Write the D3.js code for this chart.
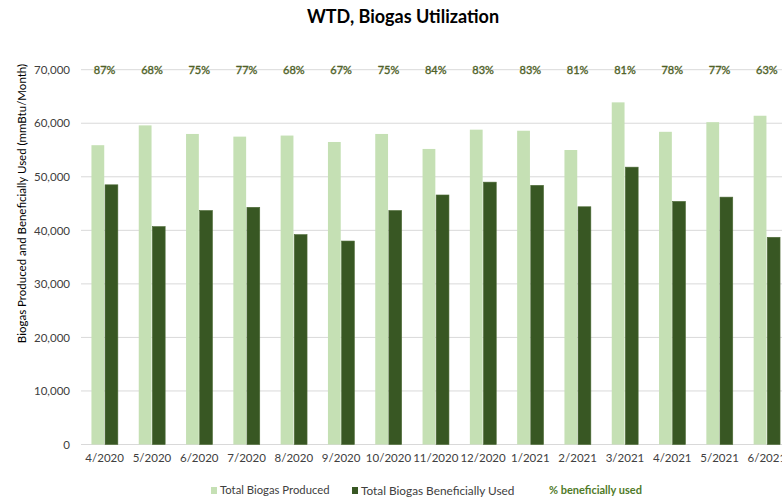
<!DOCTYPE html>
<html>
<head>
<meta charset="utf-8">
<script src="https://cdn.jsdelivr.net/npm/d3@7"></script>
<style>
  html, body { margin: 0; padding: 0; background: #fff; overflow: hidden; }
  text { font-family: Lato, "Open Sans", sans-serif; }
</style>
</head>
<body>
<svg id="chart" width="782" height="500"></svg>
<script>
const categories = ["4/2020","5/2020","6/2020","7/2020","8/2020","9/2020","10/2020","11/2020","12/2020","1/2021","2/2021","3/2021","4/2021","5/2021","6/2021"];
const produced = [55900,59600,58000,57500,57700,56500,58000,55200,58800,58600,55000,63900,58400,60200,61400];
const used = [48500,40700,43700,44300,39200,38000,43700,46600,49000,48400,44400,51800,45400,46200,38700];
const pctLabels = ["87%","68%","75%","77%","68%","67%","75%","84%","83%","83%","81%","81%","78%","77%","63%"];
const yTicks = [0,10000,20000,30000,40000,50000,60000,70000];
const seriesNames = ["Total Biogas Produced","Total Biogas Beneficially Used"];
const colors = ["#c5e0b4","#385723"];

const svg = d3.select("#chart");
const mLeft = 81, mRight = 790.5, mTop = 69.7, mBottom = 444.5;

const x0 = d3.scaleBand().domain(categories).range([mLeft, mRight]).padding(0);
const bw = x0.bandwidth();
const x1 = d3.scaleBand().domain(seriesNames).range([bw/2 - 13.2, bw/2 + 13.2]).paddingInner(0.06);
const y = d3.scaleLinear().domain([0, 70000]).range([mBottom, mTop]);

// gridlines
svg.append("g").selectAll("line").data(yTicks).join("line")
  .attr("x1", mLeft).attr("x2", 782)
  .attr("y1", d => y(d)).attr("y2", d => y(d))
  .attr("stroke", "#d9d9d9").attr("stroke-width", 1);

// y axis labels
const yAxis = d3.axisLeft(y).tickValues(yTicks).tickFormat(d3.format(",")).tickSize(0).tickPadding(0);
const ya = svg.append("g").attr("transform", `translate(${mLeft - 11},0)`).call(yAxis);
ya.select(".domain").remove();
ya.selectAll("text").attr("font-size", 11.5).attr("fill", "#404040")
  .style("font-family", "Lato, sans-serif");

// bars
const groups = svg.append("g").selectAll("g").data(categories).join("g")
  .attr("transform", d => `translate(${x0(d)},0)`);
groups.append("rect")
  .attr("x", x1(seriesNames[0])).attr("width", x1.bandwidth())
  .attr("y", (d,i) => y(produced[i])).attr("height", (d,i) => mBottom - y(produced[i]))
  .attr("fill", colors[0]);
groups.append("rect")
  .attr("x", x1(seriesNames[1])).attr("width", x1.bandwidth())
  .attr("y", (d,i) => y(used[i])).attr("height", (d,i) => mBottom - y(used[i]))
  .attr("fill", colors[1]).attr("stroke", "#4d6b36").attr("stroke-width", 0.6);

// percent labels
svg.append("g").selectAll("text").data(pctLabels).join("text")
  .attr("x", (d,i) => x0(categories[i]) + bw/2)
  .attr("y", y(70000))
  .attr("dy", "0.35em")
  .attr("text-anchor", "middle")
  .attr("font-size", 11)
  .attr("fill", "#4f6228")
  .attr("stroke", "#4f6228").attr("stroke-width", 0.35)
  .text(d => d);

// x axis labels
const xAxis = d3.axisBottom(x0).tickSize(0).tickPadding(0);
const xa = svg.append("g").attr("transform", `translate(0,${mBottom})`).call(xAxis);
xa.select(".domain").remove();
xa.selectAll("text").attr("font-size", 11.5).attr("fill", "#404040").attr("dy", "1.55em")
  .style("font-family", "Lato, sans-serif");

// title
svg.append("text").attr("x", 403).attr("y", 23).attr("text-anchor", "middle")
  .attr("font-size", 18).attr("font-weight", "bold").attr("fill", "#000")
  .text("WTD, Biogas Utilization");

// y axis title
svg.append("text").attr("transform", `translate(22,203.5) rotate(-90)`)
  .attr("text-anchor", "middle").attr("dy", "0.35em").attr("font-size", 11.5).attr("fill", "#000")
  .text("Biogas Produced and Beneficially Used (mmBtu/Month)");

// legend
const legend = svg.append("g");
const legItems = [
  {name: seriesNames[0], color: colors[0], x: 211, fs: 11.3},
  {name: seriesNames[1], color: colors[1], x: 352, fs: 11.8}
];
legItems.forEach(it => {
  legend.append("rect").attr("x", it.x).attr("y", 487).attr("width", 6).attr("height", 7).attr("fill", it.color);
  legend.append("text").attr("x", it.x + 9).attr("y", 490.5).attr("dy", "0.35em")
    .attr("font-size", it.fs).attr("fill", "#404040").text(it.name);
});
legend.append("text").attr("x", 549).attr("y", 490.5).attr("dy", "0.35em")
  .attr("font-size", 11).attr("fill", "#4f7a28").attr("font-weight", "bold").text("% beneficially used");
</script>
</body>
</html>
